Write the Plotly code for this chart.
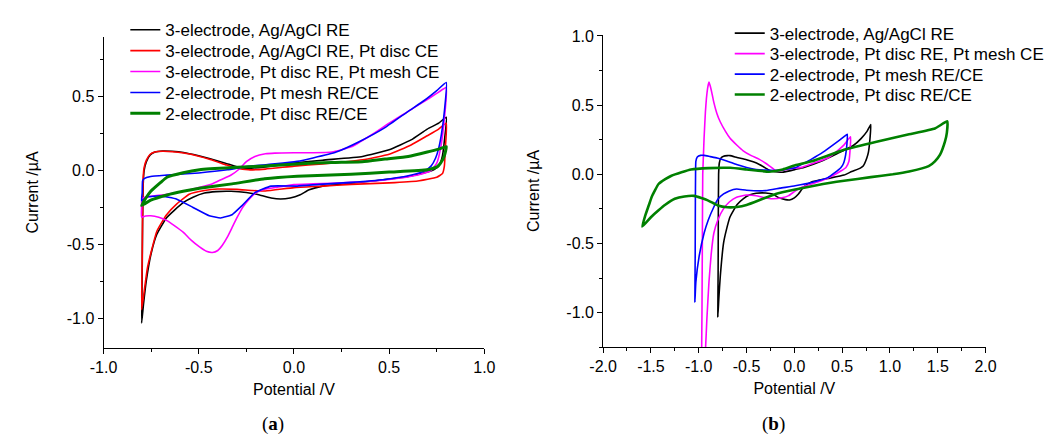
import plotly.graph_objects as go

# ---------------- Panel (a) data: potential (V) and current (uA) ----------------
a_black_v = [-0.800, -0.797, -0.795, -0.792, -0.787, -0.775, -0.755, -0.73, -0.69, -0.64, -0.58, -0.50, -0.44, -0.36, -0.30, -0.24, -0.15, 0.0, 0.15, 0.36, 0.50, 0.615, 0.70, 0.76, 0.80,
             0.79, 0.78, 0.765, 0.74, 0.70, 0.60, 0.45, 0.30, 0.15, 0.08, 0.03, -0.02, -0.07, -0.12, -0.18, -0.25, -0.33, -0.41, -0.47, -0.53, -0.58, -0.63, -0.67, -0.72, -0.75, -0.775, -0.79, -0.800]
a_black_i = [-1.03, -0.70, -0.35, -0.10, 0.00, 0.06, 0.105, 0.125, 0.132, 0.13, 0.122, 0.10, 0.08, 0.05, 0.025, 0.015, 0.025, 0.05, 0.07, 0.095, 0.14, 0.207, 0.28, 0.32, 0.36,
             0.20, 0.10, 0.04, 0.01, -0.01, -0.04, -0.065, -0.085, -0.105, -0.13, -0.165, -0.185, -0.192, -0.185, -0.165, -0.148, -0.14, -0.142, -0.152, -0.18, -0.215, -0.27, -0.32, -0.43, -0.56, -0.74, -0.90, -1.03]

a_red_v = [-0.800, -0.797, -0.795, -0.792, -0.787, -0.775, -0.755, -0.73, -0.69, -0.64, -0.58, -0.50, -0.44, -0.36, -0.30, -0.24, -0.15, 0.0, 0.15, 0.36, 0.50, 0.615, 0.70, 0.76, 0.80,
           0.795, 0.79, 0.78, 0.75, 0.65, 0.50, 0.30, 0.15, 0.0, -0.15, -0.22, -0.30, -0.40, -0.47, -0.55, -0.615, -0.67, -0.72, -0.75, -0.77, -0.785, -0.800]
a_red_i = [-0.94, -0.60, -0.30, -0.05, 0.02, 0.07, 0.11, 0.125, 0.13, 0.127, 0.118, 0.097, 0.075, 0.04, 0.015, 0.005, 0.01, 0.03, 0.045, 0.073, 0.11, 0.173, 0.235, 0.28, 0.32,
           0.15, 0.03, -0.02, -0.045, -0.07, -0.083, -0.093, -0.105, -0.115, -0.138, -0.135, -0.127, -0.125, -0.135, -0.16, -0.225, -0.30, -0.41, -0.55, -0.66, -0.80, -0.94]

a_mag_v = [-0.800, -0.800, -0.799, -0.787, -0.74, -0.667, -0.58, -0.50, -0.43, -0.38, -0.33, -0.29, -0.25, -0.205, -0.15, -0.10, 0.0, 0.10, 0.20, 0.30, 0.40, 0.50, 0.60, 0.70, 0.76, 0.80,
           0.79, 0.77, 0.75, 0.72, 0.65, 0.50, 0.30, 0.10, 0.0, -0.085, -0.16, -0.20, -0.24, -0.27, -0.30, -0.325, -0.35, -0.376, -0.40, -0.428, -0.46, -0.496, -0.54, -0.582, -0.63, -0.667, -0.71, -0.752, -0.78, -0.800]
a_mag_i = [-0.315, -0.25, -0.195, -0.182, -0.172, -0.16, -0.14, -0.115, -0.09, -0.06, -0.03, 0.007, 0.06, 0.095, 0.113, 0.118, 0.12, 0.12, 0.125, 0.16, 0.235, 0.32, 0.40, 0.48, 0.53, 0.56,
           0.35, 0.15, 0.05, 0.0, -0.03, -0.06, -0.08, -0.09, -0.095, -0.112, -0.128, -0.15, -0.20, -0.25, -0.32, -0.385, -0.45, -0.505, -0.54, -0.553, -0.545, -0.516, -0.47, -0.416, -0.37, -0.338, -0.315, -0.305, -0.307, -0.315]

a_blue_v = [-0.800, -0.797, -0.795, -0.787, -0.752, -0.667, -0.50, -0.35, -0.24, -0.10, 0.017, 0.10, 0.222, 0.35, 0.478, 0.60, 0.684, 0.75, 0.80,
            0.79, 0.775, 0.76, 0.744, 0.72, 0.684, 0.60, 0.478, 0.30, 0.135, 0.017, -0.12, -0.205, -0.274, -0.325, -0.385, -0.445, -0.53, -0.615, -0.701, -0.77, -0.800]
a_blue_i = [-0.204, -0.15, -0.071, -0.055, -0.04, -0.031, -0.016, 0.005, 0.029, 0.045, 0.062, 0.085, 0.125, 0.20, 0.29, 0.40, 0.473, 0.54, 0.595,
            0.40, 0.25, 0.15, 0.085, 0.03, -0.004, -0.035, -0.06, -0.08, -0.093, -0.105, -0.105, -0.149, -0.238, -0.298, -0.32, -0.305, -0.249, -0.193, -0.171, -0.178, -0.204]

a_green_v = [-0.800, -0.78, -0.752, -0.70, -0.667, -0.582, -0.496, -0.325, -0.154, 0.017, 0.20, 0.359, 0.478, 0.60, 0.70, 0.76, 0.80,
             0.79, 0.77, 0.752, 0.70, 0.50, 0.30, 0.017, -0.154, -0.325, -0.496, -0.582, -0.667, -0.752, -0.800]
a_green_i = [-0.235, -0.19, -0.14, -0.08, -0.045, -0.015, 0.005, 0.02, 0.03, 0.045, 0.055, 0.06, 0.078, 0.095, 0.125, 0.145, 0.162,
             0.10, 0.05, 0.025, 0.005, -0.01, -0.025, -0.038, -0.055, -0.09, -0.12, -0.14, -0.165, -0.20, -0.235]

# ---------------- Panel (b) data ----------------
b_black_v = [-0.80, -0.797, -0.795, -0.792, -0.785, -0.77, -0.74, -0.70, -0.672, -0.60, -0.50, -0.43, -0.366, -0.30, -0.264, -0.20, -0.127, -0.05, 0.009, 0.10, 0.28, 0.45, 0.62, 0.70, 0.76, 0.80,
             0.79, 0.775, 0.758, 0.72, 0.69, 0.60, 0.52, 0.35, 0.18, 0.10, 0.043, 0.0, -0.05, -0.093, -0.16, -0.229, -0.30, -0.40, -0.47, -0.535, -0.60, -0.672, -0.71, -0.74, -0.774, -0.79, -0.80]
b_black_i = [-1.03, -0.70, -0.30, 0.0, 0.08, 0.115, 0.13, 0.135, 0.135, 0.122, 0.106, 0.09, 0.071, 0.045, 0.03, 0.018, 0.015, 0.025, 0.035, 0.05, 0.094, 0.15, 0.21, 0.26, 0.31, 0.36,
             0.25, 0.16, 0.118, 0.06, 0.045, 0.02, -0.005, -0.03, -0.055, -0.09, -0.142, -0.17, -0.185, -0.183, -0.17, -0.142, -0.135, -0.137, -0.15, -0.177, -0.22, -0.307, -0.40, -0.496, -0.733, -0.90, -1.03]

b_mag_v = [-0.97, -0.966, -0.962, -0.958, -0.95, -0.944, -0.93, -0.92, -0.905, -0.893, -0.88, -0.86, -0.842, -0.81, -0.774, -0.72, -0.672, -0.60, -0.535, -0.45, -0.37, -0.30, -0.25, -0.20, -0.127, 0.0, 0.077, 0.20, 0.35, 0.45, 0.52, 0.588,
           0.585, 0.571, 0.54, 0.486, 0.40, 0.282, 0.18, 0.077, 0.0, -0.059, -0.13, -0.23, -0.32, -0.40, -0.50, -0.604, -0.68, -0.74, -0.80, -0.842, -0.87, -0.893, -0.915, -0.928, -0.95, -0.97]
b_mag_i = [-1.60, -1.00, -0.50, 0.0, 0.15, 0.26, 0.45, 0.544, 0.63, 0.667, 0.64, 0.58, 0.52, 0.44, 0.378, 0.31, 0.26, 0.21, 0.17, 0.135, 0.11, 0.08, 0.055, 0.03, 0.028, 0.045, 0.05, 0.08, 0.118, 0.17, 0.213, 0.272,
           0.20, 0.094, 0.05, 0.024, -0.01, -0.047, -0.07, -0.094, -0.125, -0.154, -0.17, -0.177, -0.168, -0.155, -0.15, -0.165, -0.20, -0.248, -0.33, -0.426, -0.58, -0.78, -1.05, -1.25, -1.50, -1.60]

b_blue_v = [-1.04, -1.037, -1.035, -1.033, -1.03, -1.015, -0.98, -0.944, -0.88, -0.808, -0.70, -0.604, -0.50, -0.40, -0.30, -0.195, -0.10, 0.009, 0.10, 0.18, 0.30, 0.42, 0.52, 0.554,
            0.55, 0.537, 0.515, 0.486, 0.42, 0.35, 0.20, 0.009, -0.15, -0.30, -0.50, -0.604, -0.68, -0.74, -0.80, -0.842, -0.90, -0.944, -0.995, -1.03, -1.04]
b_blue_i = [-0.922, -0.60, -0.20, 0.0, 0.094, 0.125, 0.137, 0.137, 0.128, 0.118, 0.095, 0.071, 0.05, 0.035, 0.03, 0.028, 0.035, 0.047, 0.08, 0.11, 0.16, 0.22, 0.272, 0.289,
            0.22, 0.142, 0.08, 0.047, 0.01, -0.024, -0.055, -0.083, -0.10, -0.118, -0.115, -0.106, -0.12, -0.142, -0.18, -0.236, -0.33, -0.426, -0.59, -0.78, -0.922]

b_green_v = [-1.59, -1.56, -1.52, -1.49, -1.42, -1.35, -1.285, -1.18, -1.08, -0.90, -0.672, -0.50, -0.40, -0.264, -0.12, 0.009, 0.18, 0.52, 0.86, 1.20, 1.47, 1.60,
             1.595, 1.575, 1.524, 1.47, 1.405, 1.20, 1.03, 0.80, 0.52, 0.30, 0.009, -0.195, -0.33, -0.50, -0.60, -0.70, -0.80, -0.90, -1.046, -1.15, -1.25, -1.35, -1.42, -1.50, -1.59]
b_green_i = [-0.378, -0.30, -0.22, -0.16, -0.07, -0.035, -0.01, 0.015, 0.035, 0.045, 0.047, 0.035, 0.028, 0.019, 0.035, 0.065, 0.094, 0.177, 0.236, 0.289, 0.331, 0.383,
             0.30, 0.236, 0.142, 0.094, 0.059, 0.02, 0.0, -0.02, -0.047, -0.07, -0.11, -0.142, -0.177, -0.222, -0.236, -0.238, -0.225, -0.19, -0.156, -0.16, -0.177, -0.22, -0.26, -0.31, -0.378]

# ---------------- labels and ticks ----------------
names_a = ["3-electrode, Ag/AgCl RE", "3-electrode, Ag/AgCl RE, Pt disc CE",
           "3-electrode, Pt disc RE, Pt mesh CE", "2-electrode, Pt mesh RE/CE", "2-electrode, Pt disc RE/CE"]
names_b = ["3-electrode, Ag/AgCl RE", "3-electrode, Pt disc RE, Pt mesh CE",
           "2-electrode, Pt mesh RE/CE", "2-electrode, Pt disc RE/CE"]

xa_tickvals = [-1.0, -0.5, 0.0, 0.5, 1.0]
xa_ticktext = ["-1.0", "-0.5", "0.0", "0.5", "1.0"]
ya_tickvals = [-1.0, -0.5, 0.0, 0.5]
ya_ticktext = ["-1.0", "-0.5", "0.0", "0.5"]
xb_tickvals = [-2.0, -1.5, -1.0, -0.5, 0.0, 0.5, 1.0, 1.5, 2.0]
xb_ticktext = ["-2.0", "-1.5", "-1.0", "-0.5", "0.0", "0.5", "1.0", "1.5", "2.0"]
yb_tickvals = [-1.0, -0.5, 0.0, 0.5, 1.0]
yb_ticktext = ["-1.0", "-0.5", "0.0", "0.5", "1.0"]

BLACK, RED, MAG, BLUE, GREEN = "#000000", "#ff0000", "#ff00ff", "#0000ff", "#008000"
FONT = "Liberation Sans, Arial, sans-serif"
W, H = 1062, 447

# legend rows (pixel centres from the top) for each panel
rows_a_px = [23.5, 44.8, 66.0, 87.3, 108.5]
rows_b_px = [27.0, 47.8, 68.6, 89.4]
legend_x_a_px = 114
legend_x_b_px = 733

fig = go.Figure()
layout_legends = {}
legend_font = dict(family=FONT, size=17, color="black")

series_a = [(a_black_v, a_black_i, BLACK, 1.6), (a_red_v, a_red_i, RED, 1.6), (a_mag_v, a_mag_i, MAG, 1.6),
            (a_blue_v, a_blue_i, BLUE, 1.6), (a_green_v, a_green_i, GREEN, 3.0)]
series_b = [(b_black_v, b_black_i, BLACK, 1.6), (b_mag_v, b_mag_i, MAG, 1.6),
            (b_blue_v, b_blue_i, BLUE, 1.6), (b_green_v, b_green_i, GREEN, 2.6)]

k = 0
for panel, series, names, rows, lx, xref, yref in [
        ("a", series_a, names_a, rows_a_px, legend_x_a_px, "x", "y"),
        ("b", series_b, names_b, rows_b_px, legend_x_b_px, "x2", "y2")]:
    for (v, i, c, w), n, ry in zip(series, names, rows):
        k += 1
        lname = "legend" if k == 1 else f"legend{k}"
        fig.add_trace(go.Scatter(x=v, y=i, mode="lines", name=n, showlegend=True,
                                 line=dict(color=c, width=w, shape="spline", smoothing=0.4),
                                 xaxis=xref, yaxis=yref, legend=lname))
        layout_legends[lname] = dict(x=lx / W, y=1 - ry / H, xanchor="left", yanchor="middle",
                                     bgcolor="rgba(0,0,0,0)", font=legend_font, itemwidth=30)


def axis_common():
    return dict(showline=True, linecolor="black", linewidth=1, mirror=False, showgrid=False, zeroline=False,
                ticks="outside", ticklen=5, tickwidth=1, tickcolor="black", tickmode="array",
                tickfont=dict(family=FONT, size=16, color="black"),
                minor=dict(ticks="outside", ticklen=3, tickwidth=1, tickcolor="black", tickmode="linear",
                           tick0=0, dtick=0.25, showgrid=False))


title_font = dict(family=FONT, size=16, color="black")
xa = axis_common(); xa.update(domain=[91.7 / W, 481.7 / W], range=[-1.0, 1.0], tickvals=xa_tickvals, ticktext=xa_ticktext,
                               anchor="y", title=dict(text="Potential /V", font=title_font, standoff=8))
ya = axis_common(); ya.update(domain=[1 - 346.7 / H, 1 - 30 / H], range=[-1.2, 0.905], tickvals=ya_tickvals, ticktext=ya_ticktext,
                               anchor="x", title=dict(text="Current /µA", font=title_font, standoff=24))
xb = axis_common(); xb.update(domain=[603.3 / W, 995 / W], range=[-2.0, 2.0], tickvals=xb_tickvals, ticktext=xb_ticktext,
                               anchor="y2", title=dict(text="Potential /V", font=title_font, standoff=8))
yb = axis_common(); yb.update(domain=[1 - 345.7 / H, 1 - 28 / H], range=[-1.25, 1.01], tickvals=yb_tickvals, ticktext=yb_ticktext,
                               anchor="x2", title=dict(text="Current /µA", font=title_font, standoff=22))

fig.update_layout(
    width=W, height=H, margin=dict(l=0, r=0, t=0, b=0),
    paper_bgcolor="white", plot_bgcolor="white", showlegend=True,
    xaxis=xa, yaxis=ya, xaxis2=xb, yaxis2=yb,
    annotations=[
        dict(text="(<b>a</b>)", x=252 / W, y=1 - 437 / H, xref="paper", yref="paper", showarrow=False,
             font=dict(family="Liberation Serif, serif", size=19, color="black")),
        dict(text="(<b>b</b>)", x=792 / W, y=1 - 437 / H, xref="paper", yref="paper", showarrow=False,
             font=dict(family="Liberation Serif, serif", size=19, color="black")),
    ],
    **layout_legends,
)

fig.write_html("out.html", config={"displayModeBar": False},
               post_script="document.body.style.margin='0';document.body.style.overflow='hidden';")
